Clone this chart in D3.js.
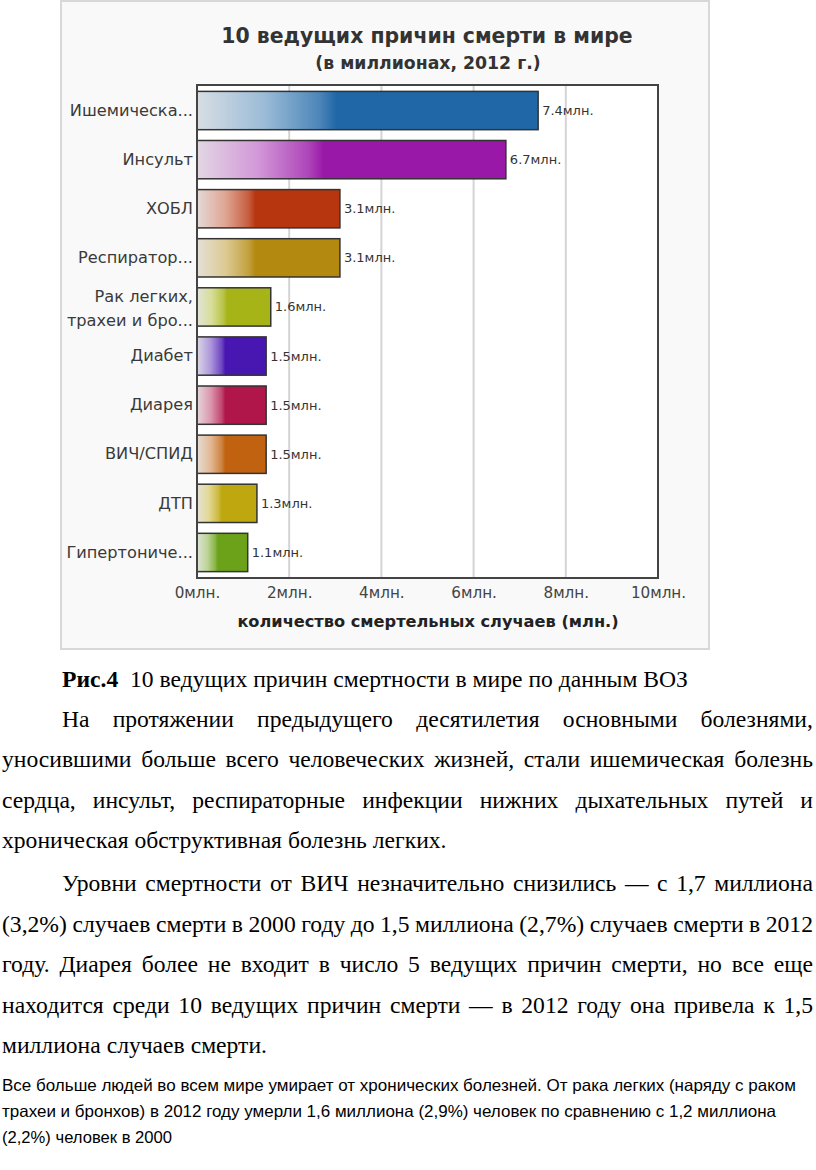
<!DOCTYPE html>
<html><head><meta charset="utf-8">
<script src="https://cdn.jsdelivr.net/npm/d3@7"></script>
<style>body{margin:0;background:#fff;} svg{display:block}</style>
</head><body>
<svg id="c" width="816" height="1170"></svg>
<script>
// ---- data ----
const categories = ["Ишемическа...", "Инсульт", "ХОБЛ", "Респиратор...", "Рак легких,|трахеи и бро...", "Диабет", "Диарея", "ВИЧ/СПИД", "ДТП", "Гипертониче..."];
const values = [7.4, 6.7, 3.1, 3.1, 1.6, 1.5, 1.5, 1.5, 1.3, 1.1];
const valueLabels = ["7.4млн.", "6.7млн.", "3.1млн.", "3.1млн.", "1.6млн.", "1.5млн.", "1.5млн.", "1.5млн.", "1.3млн.", "1.1млн."];
const barColors = ["#1f67a7", "#9a18a8", "#b8360f", "#b38a0f", "#a6b418", "#4816b0", "#b0164a", "#c0620f", "#bfa80f", "#6ca21a"];
const xTicks = [0, 2, 4, 6, 8, 10];
const xTickLabels = ["0млн.", "2млн.", "4млн.", "6млн.", "8млн.", "10млн."];
const gridTicks = [2, 4, 6, 8];
const title = "10 ведущих причин смерти в мире";
const subtitle = "(в миллионах, 2012 г.)";
const xAxisTitle = "количество смертельных случаев (млн.)";

const caption = [["Рис.4", true], ["10", false], ["ведущих", false], ["причин", false], ["смертности", false], ["в", false], ["мире", false], ["по", false], ["данным", false], ["ВОЗ", false]];
const para1 = [
  "На протяжении предыдущего десятилетия основными болезнями,",
  "уносившими больше всего человеческих жизней, стали ишемическая болезнь",
  "сердца, инсульт, респираторные инфекции нижних дыхательных путей и",
  "хроническая обструктивная болезнь легких."
];
const para2 = [
  "Уровни смертности от ВИЧ незначительно снизились — с 1,7 миллиона",
  "(3,2%) случаев смерти в 2000 году до 1,5 миллиона (2,7%) случаев смерти в 2012",
  "году. Диарея более не входит в число 5 ведущих причин смерти, но все еще",
  "находится среди 10 ведущих причин смерти — в 2012 году она привела к 1,5",
  "миллиона случаев смерти."
];
const smallLines = [
  "Все больше людей во всем мире умирает от хронических болезней. От рака легких (наряду с раком",
  "трахеи и бронхов) в 2012 году умерли 1,6 миллиона (2,9%) человек по сравнению с 1,2 миллиона",
  "(2,2%) человек в 2000"
];

// ---- chart ----
const svg = d3.select("#c");
const F = "'DejaVu Sans', Verdana, sans-serif";

svg.append("rect").attr("x", 61).attr("y", 1).attr("width", 648).attr("height", 648)
  .attr("fill", "#f9f9f9").attr("stroke", "#d8d8d8").attr("stroke-width", 2);

const L = 197, R = 658, T = 85, B = 578;
const x = d3.scaleLinear().domain([0, 10]).range([L, R]);
const y = d3.scaleBand().domain(categories).range([T, B]).paddingInner(0.22).paddingOuter(0.13);

svg.append("text").attr("x", 427).attr("y", 43).attr("text-anchor", "middle")
  .attr("font-family", F).attr("font-weight", "bold").attr("font-size", 20.4).attr("fill", "#333").text(title);
svg.append("text").attr("x", 428).attr("y", 69).attr("text-anchor", "middle")
  .attr("font-family", F).attr("font-weight", "bold").attr("font-size", 17.3).attr("fill", "#333").text(subtitle);

svg.append("rect").attr("x", L).attr("y", T).attr("width", R - L).attr("height", B - T).attr("fill", "#fff");
svg.append("g").selectAll("line").data(gridTicks).join("line")
  .attr("x1", d => x(d)).attr("x2", d => x(d)).attr("y1", T).attr("y2", B)
  .attr("stroke", "#d4d4d4").attr("stroke-width", 2);

const defs = svg.append("defs");
barColors.forEach((c, i) => {
  const g = defs.append("linearGradient").attr("id", "g" + i).attr("x1", 0).attr("x2", 1).attr("y1", 0).attr("y2", 0);
  g.append("stop").attr("offset", 0).attr("stop-color", d3.interpolateRgb("#e8e8e8", c)(0.08));
  g.append("stop").attr("offset", 0.2).attr("stop-color", d3.interpolateRgb("#ffffff", c)(0.45));
  g.append("stop").attr("offset", 0.36).attr("stop-color", d3.interpolateRgb("#ffffff", c)(0.8));
  g.append("stop").attr("offset", 0.41).attr("stop-color", c);
  g.append("stop").attr("offset", 1).attr("stop-color", c);
});

svg.append("g").selectAll("rect").data(values).join("rect")
  .attr("x", x(0)).attr("y", (d, i) => y(categories[i]))
  .attr("width", d => x(d) - x(0)).attr("height", y.bandwidth())
  .attr("fill", (d, i) => `url(#g${i})`).attr("stroke", "#333").attr("stroke-width", 1.5);

svg.append("g").selectAll("text").data(values).join("text")
  .attr("x", d => x(d) + 4).attr("y", (d, i) => y(categories[i]) + y.bandwidth() / 2)
  .attr("dy", "0.35em").attr("font-family", F).attr("font-size", 13).attr("fill", "#333")
  .text((d, i) => valueLabels[i]);

// y axis labels
const ya = svg.append("g").attr("transform", `translate(${L},0)`)
  .call(d3.axisLeft(y).tickSize(0).tickPadding(4));
ya.select(".domain").remove();
ya.selectAll("text").attr("font-family", F).attr("font-size", 16.2).attr("fill", "#3a3a3a")
  .each(function (d) {
    const parts = d.split("|");
    const t = d3.select(this).text(null);
    if (parts.length === 1) { t.text(parts[0]); return; }
    t.attr("dy", null);
    parts.forEach((p, j) => t.append("tspan").attr("x", -4).attr("y", (j - 0.5) * 24 + 1).attr("dy", "0.35em").text(p));
  });

// x axis
const xa = svg.append("g").attr("transform", `translate(0,${B})`)
  .call(d3.axisBottom(x).tickValues(xTicks).tickFormat((d, i) => xTickLabels[i]).tickSize(0).tickPadding(9));
xa.select(".domain").remove();
xa.selectAll("text").attr("font-family", F).attr("font-size", 15.2).attr("fill", "#444");

svg.append("text").attr("x", 428).attr("y", 627).attr("text-anchor", "middle")
  .attr("font-family", F).attr("font-weight", "bold").attr("font-size", 16.2).attr("fill", "#222").text(xAxisTitle);

svg.append("rect").attr("x", L).attr("y", T).attr("width", R - L).attr("height", B - T)
  .attr("fill", "none").attr("stroke", "#444").attr("stroke-width", 2);

// ---- body text ----
const SF = "'Liberation Serif', 'Times New Roman', serif";
const FS = 23;
const meas = svg.append("text").attr("font-family", SF).attr("font-size", FS).attr("x", -1000).attr("y", -1000);
function wlen(w, bold) { meas.attr("font-weight", bold ? "bold" : "normal").text(w); return meas.node().getComputedTextLength(); }
const spaceW = wlen("a a") - wlen("aa");

function drawWords(words, x0, yb, k, target) {
  const widths = words.map(w => wlen(w[0], w[1]));
  const sum = d3.sum(widths);
  const gap = target ? (target / k - sum) / (words.length - 1) : spaceW;
  const g = svg.append("g").attr("transform", `translate(${x0},${yb}) scale(${k},1)`);
  let cx = 0;
  words.forEach((w, i) => {
    g.append("text").attr("x", cx).attr("y", 0).attr("font-family", SF).attr("font-size", FS)
      .attr("font-weight", w[1] ? "bold" : "normal").attr("fill", "#000").text(w[0]);
    cx += widths[i] + gap;
  });
  return cx - gap;
}
const capNat = d3.sum(caption, w => wlen(w[0], w[1])) + spaceW * caption.length;
const k = 626 / capNat;
// caption: extra space after Рис.4
(function () {
  const g = svg.append("g").attr("transform", `translate(62,687) scale(${k},1)`);
  let cx = 0;
  caption.forEach((w, i) => {
    g.append("text").attr("x", cx).attr("font-family", SF).attr("font-size", FS)
      .attr("font-weight", w[1] ? "bold" : "normal").text(w[0]);
    cx += wlen(w[0], w[1]) + spaceW * (i === 0 ? 2 : 1);
  });
})();
const toWords = s => s.split(" ").map(w => [w, false]);
const RIGHT = 813;
para1.forEach((s, i) => {
  const x0 = i === 0 ? 62 : 2;
  const justify = i < para1.length - 1;
  drawWords(toWords(s), x0, 727 + i * 40.3, k, justify ? RIGHT - x0 : null);
});
para2.forEach((s, i) => {
  const x0 = i === 0 ? 62 : 2;
  const justify = i < para2.length - 1;
  drawWords(toWords(s), x0, 891 + i * 40.5, k, justify ? RIGHT - x0 : null);
});
const smallTargets = [794, 774, 170];
smallLines.forEach((s, i) => {
  svg.append("text").attr("x", 2).attr("y", 1091 + i * 26)
    .attr("font-family", "'Liberation Sans Narrow', 'Liberation Sans', Arial, sans-serif").attr("font-size", 16.5)
    .attr("textLength", smallTargets[i]).attr("lengthAdjust", "spacingAndGlyphs").attr("fill", "#000").text(s);
});
meas.remove();
</script>
</body></html>
